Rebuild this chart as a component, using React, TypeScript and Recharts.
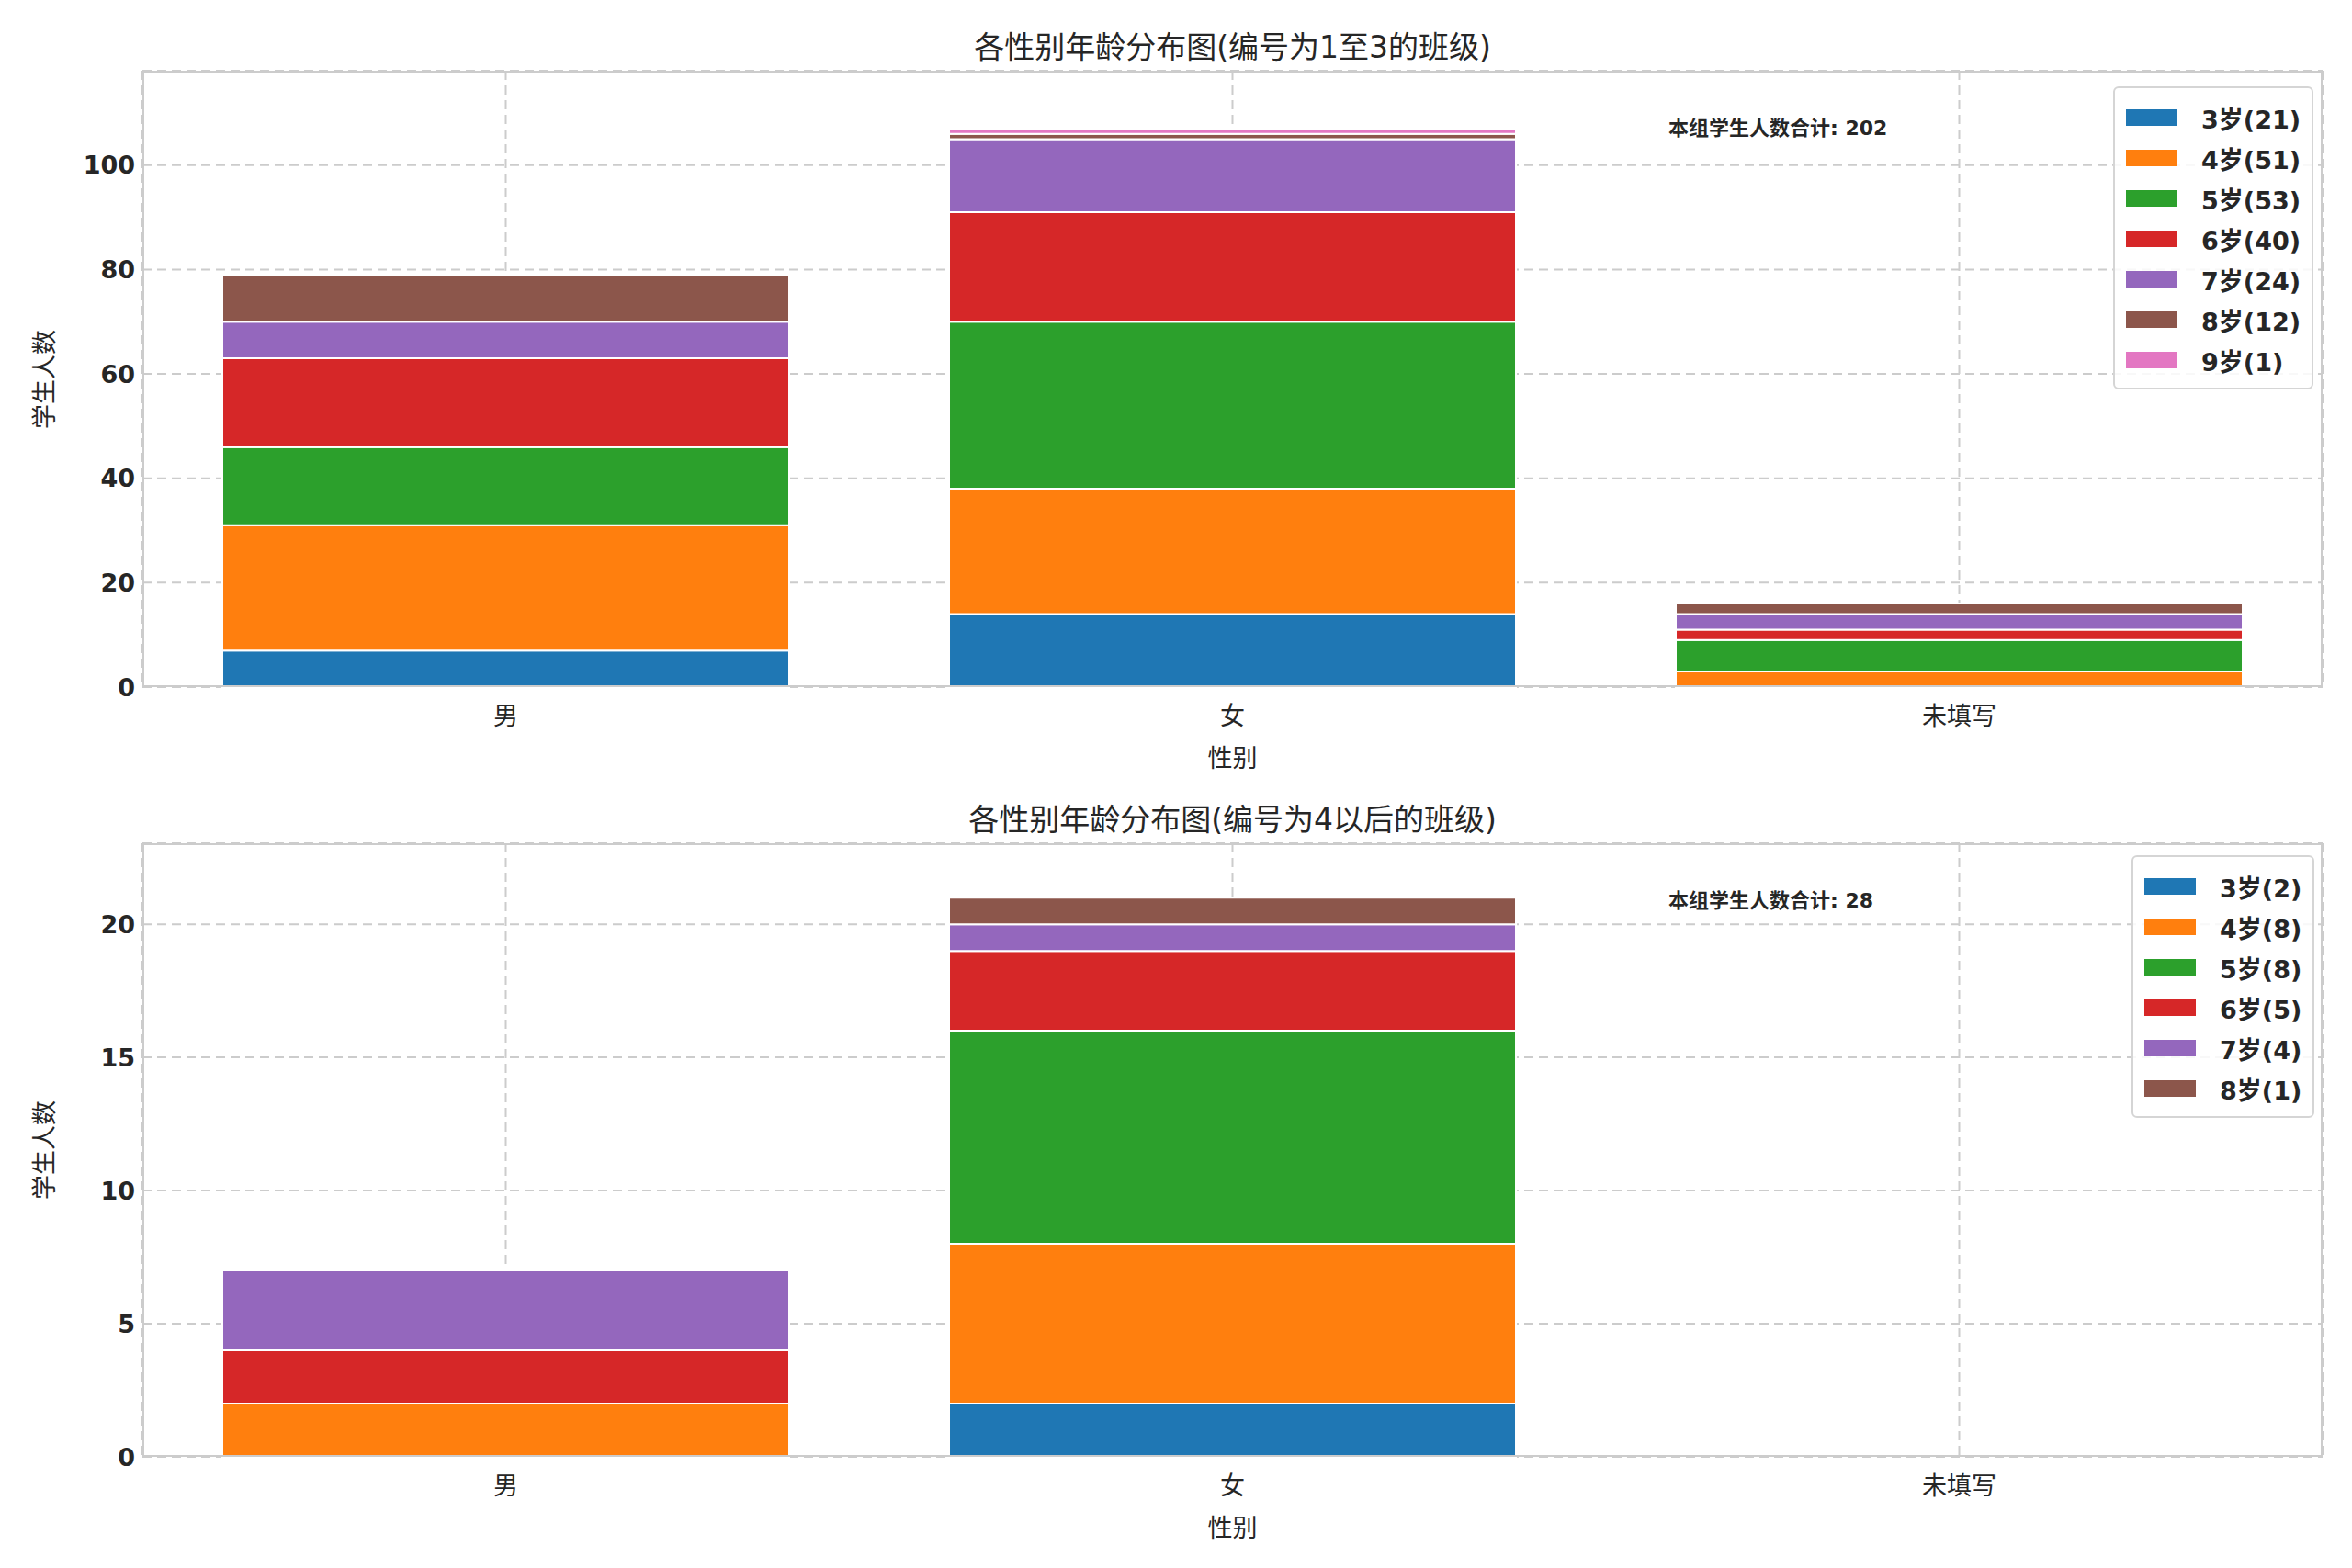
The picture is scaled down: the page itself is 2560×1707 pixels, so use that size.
import React from 'react'
import { BarChart, Bar, XAxis, YAxis, CartesianGrid, LabelList } from 'recharts'

const genders = ['男', '女', '未填写']
const ages = ['3岁', '4岁', '5岁', '6岁', '7岁', '8岁', '9岁']
const colors = ['#1f77b4', '#ff7f0e', '#2ca02c', '#d62728', '#9467bd', '#8c564b', '#e377c2']

// counts per age, one entry per gender
const topCounts = [
  [7, 14, 0],
  [24, 24, 3],
  [15, 32, 6],
  [17, 21, 2],
  [7, 14, 3],
  [9, 1, 2],
  [0, 1, 0],
]
const bottomCounts = [
  [0, 2, 0],
  [2, 6, 0],
  [0, 8, 0],
  [2, 3, 0],
  [3, 1, 0],
  [0, 1, 0],
]
const topTicks = [0, 20, 40, 60, 80, 100]
const bottomTicks = [0, 5, 10, 15, 20]

const FONT = '"DejaVu Sans", "Noto Sans CJK SC", sans-serif'

function buildRows(counts: number[][]) {
  return genders.map((g, gi) => {
    const row: any = { gender: g, cap: 0, total: 0 }
    counts.forEach((c, ai) => {
      row[ages[ai]] = c[gi]
      row.total += c[gi]
    })
    return row
  })
}

function Panel(props: {
  counts: number[][]
  ticks: number[]
  ymax: number
  top: number
  plotTop: number
  plotBottom: number
  title: string
  note: string
  legendTop: number
  legendLeft: number
}) {
  const { counts, ticks, ymax, top, plotTop, plotBottom, title, note, legendTop, legendLeft } = props
  const H = 850
  const rows = buildRows(counts)
  const used = ages.slice(0, counts.length)
  const plotLeft = 155
  const plotRight = 2528
  return (
    <div style={{ position: 'absolute', left: 0, top, width: 2560, height: H, fontFamily: FONT }}>
      <BarChart
        width={2560}
        height={H}
        data={rows}
        margin={{ top: plotTop, left: plotLeft - 80, right: 2560 - plotRight, bottom: H - plotBottom - 60 }}
        barCategoryGap="11%"
      >
        <CartesianGrid stroke="#cccccc" strokeDasharray="10 6" strokeWidth={2} />
        <XAxis
          dataKey="gender"
          axisLine={false}
          tickLine={false}
          height={60}
          tick={{ fontSize: 27, fill: '#262626', fontFamily: FONT, dy: 14 }}
        />
        <YAxis
          width={80}
          domain={[0, ymax]}
          ticks={ticks}
          axisLine={false}
          tickLine={false}
          tick={{ fontSize: 27, fill: '#262626', fontWeight: 'bold', fontFamily: FONT }}
        />
        {used.map((a, i) => (
          <Bar key={a} dataKey={a} stackId="s" fill={colors[i]} stroke="#ffffff" strokeWidth={2} isAnimationActive={false} />
        ))}
        <Bar dataKey="cap" stackId="s" fill="none" isAnimationActive={false}>
          <LabelList
            dataKey="total"
            content={(p: any) => (
              <text
                x={p.x + p.width / 2}
                y={p.y - 6}
                textAnchor="middle"
                fontSize={28}
                fontWeight="bold"
                fill="#262626"
                fontFamily={FONT}
              >
                {p.value}
              </text>
            )}
          />
        </Bar>
      </BarChart>
      <div
        style={{
          position: 'absolute', left: plotLeft, top: plotTop, width: plotRight - plotLeft,
          height: plotBottom - plotTop, border: '2px solid #cccccc', boxSizing: 'border-box', pointerEvents: 'none',
        }}
      />
      <div style={{ position: 'absolute', left: plotLeft, width: plotRight - plotLeft, top: plotTop - 52, textAlign: 'center', fontSize: 33, color: '#262626' }}>
        {title}
      </div>
      <div style={{ position: 'absolute', left: plotLeft, width: plotRight - plotLeft, top: plotBottom + 56, textAlign: 'center', fontSize: 27, color: '#262626' }}>
        性别
      </div>
      <div
        style={{
          position: 'absolute', left: 46, top: (plotTop + plotBottom) / 2, fontSize: 27, color: '#262626',
          transform: 'translate(-50%, -50%) rotate(-90deg)', whiteSpace: 'nowrap',
        }}
      >
        学生人数
      </div>
      <div style={{ position: 'absolute', left: 1816, top: plotTop + 44, fontSize: 22, fontWeight: 'bold', color: '#262626' }}>
        {note}
      </div>
      <div
        style={{
          position: 'absolute', left: legendLeft, top: legendTop, border: '2px solid #d5d5d5', borderRadius: 6,
          background: 'rgba(255,255,255,0.85)', padding: '10px 12px 8px 12px',
        }}
      >
        {used.map((a, i) => (
          <div key={a} style={{ display: 'flex', alignItems: 'center', height: 44 }}>
            <div style={{ width: 56, height: 18, background: colors[i], marginRight: 26 }} />
            <span style={{ fontSize: 27, fontWeight: 'bold', color: '#262626' }}>
              {a}({counts[i].reduce((s, v) => s + v, 0)})
            </span>
          </div>
        ))}
      </div>
    </div>
  )
}

export default function App() {
  const topTotal = topCounts.flat().reduce((s, v) => s + v, 0)
  const bottomTotal = bottomCounts.flat().reduce((s, v) => s + v, 0)
  return (
    <div style={{ position: 'absolute', left: 0, top: 0, width: 2560, height: 1707, background: '#fff' }}>
      <Panel
        counts={topCounts}
        ticks={topTicks}
        ymax={118.1}
        top={0}
        plotTop={77}
        plotBottom={748}
        title="各性别年龄分布图(编号为1至3的班级)"
        note={`本组学生人数合计: ${topTotal}`}
        legendTop={94}
        legendLeft={2300}
      />
      <Panel
        counts={bottomCounts}
        ticks={bottomTicks}
        ymax={23.04}
        top={857}
        plotTop={61}
        plotBottom={729}
        title="各性别年龄分布图(编号为4以后的班级)"
        note={`本组学生人数合计: ${bottomTotal}`}
        legendTop={74}
        legendLeft={2320}
      />
    </div>
  )
}
